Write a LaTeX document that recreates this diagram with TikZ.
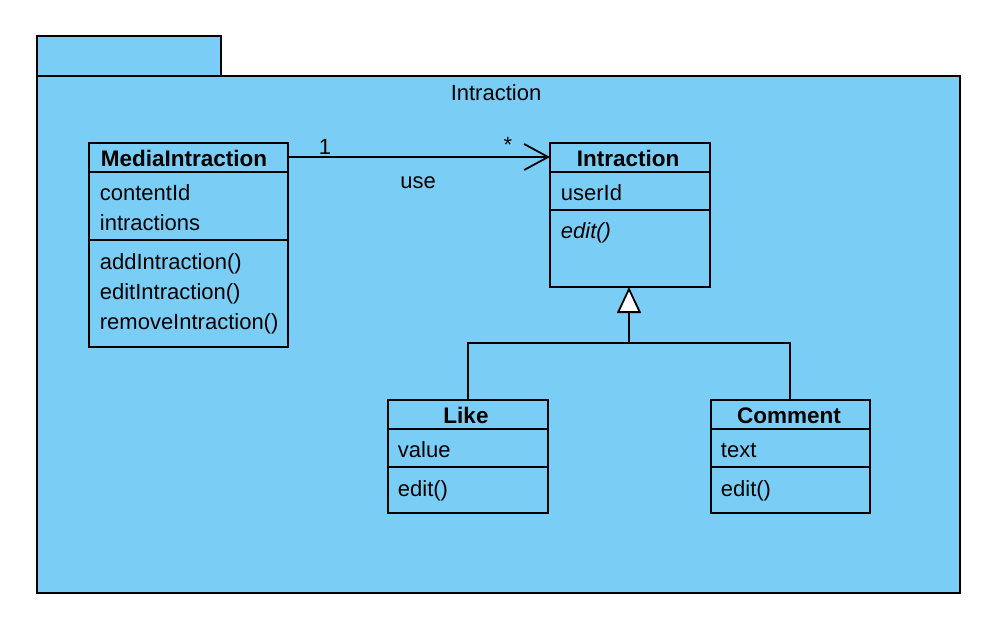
\documentclass[tikz,border=0pt]{standalone}
\usepackage{fontspec}
\setmainfont{Liberation Sans}
\usetikzlibrary{arrows.meta}
\definecolor{pkgblue}{RGB}{122,206,245}
\begin{document}
\begin{tikzpicture}[x=1pt,y=-1pt,line width=1.8pt,
  box/.style={draw=black,fill=pkgblue,anchor=north west,inner sep=0,outer sep=0},
  txt/.style={anchor=base west,inner sep=0,font=\fontsize{22}{26}\selectfont},
  ttl/.style={anchor=base,inner sep=0,font=\fontsize{22.5}{26}\selectfont\bfseries},
  ctxt/.style={anchor=base,inner sep=0,font=\fontsize{22}{26}\selectfont}]
\useasboundingbox[fill=white] (0,0) rectangle (990,616);
% package
\node[box,minimum width=184,minimum height=40] (tab) at (37,36) {};
\node[box,minimum width=923,minimum height=517] (pkg) at (37,76) {};
\node[ctxt] (pkgname) at (496,100) {Intraction};
% MediaIntraction
\node[box,minimum width=199,minimum height=204] (media) at (89,143) {};
\draw (media.west |- 0,172) -- (media.east |- 0,172);
\draw (media.west |- 0,240) -- (media.east |- 0,240);
\node[ttl] (mediaT) at (184,166) {MediaIntraction};
\node[txt] (m1) at (99,200) {contentId};
\node[txt] (m2) at (99,230) {intractions};
\node[txt] (m3) at (99,269) {addIntraction()};
\node[txt] (m4) at (99,299) {editIntraction()};
\node[txt] (m5) at (99,329) {removeIntraction()};
% Intraction
\node[box,minimum width=160,minimum height=144] (inter) at (550,143) {};
\draw (inter.west |- 0,172) -- (inter.east |- 0,172);
\draw (inter.west |- 0,210) -- (inter.east |- 0,210);
\node[ttl] (interT) at (628,166) {Intraction};
\node[txt] (i1) at (560,200) {userId};
\node[txt] (i2) at (560,238) {\itshape edit()};
% Like
\node[box,minimum width=160,minimum height=113] (like) at (388,400) {};
\draw (like.west |- 0,429) -- (like.east |- 0,429);
\draw (like.west |- 0,467) -- (like.east |- 0,467);
\node[ttl] (likeT) at (466,423) {Like};
\node[txt] (l1) at (397,457) {value};
\node[txt] (l2) at (397,496) {edit()};
% Comment
\node[box,minimum width=159,minimum height=113] (comment) at (711,400) {};
\draw (comment.west |- 0,429) -- (comment.east |- 0,429);
\draw (comment.west |- 0,467) -- (comment.east |- 0,467);
\node[ttl] (commentT) at (789,423) {Comment};
\node[txt] (c1) at (720,457) {text};
\node[txt] (c2) at (720,496) {edit()};
% association
\draw[-{Straight Barb[length=24pt,width=26pt,line width=1.8pt]}] (media.east |- 0,157) -- (inter.west |- 0,157);
\node[ctxt] (mult1) at (325,154) {1};
\node[ctxt] (mult2) at (508,152) {*};
\node[ctxt] (use) at (418,188) {use};
% generalization
\coordinate (j) at (629,343);
\draw (like.north) |- (j);
\draw ([xshift=-0.5pt]comment.north) |- (j);
\draw[-{Triangle[open,fill=white,length=26pt,width=24pt,line width=1.8pt]}] (j) -- (j |- inter.south);
\end{tikzpicture}
\end{document}
